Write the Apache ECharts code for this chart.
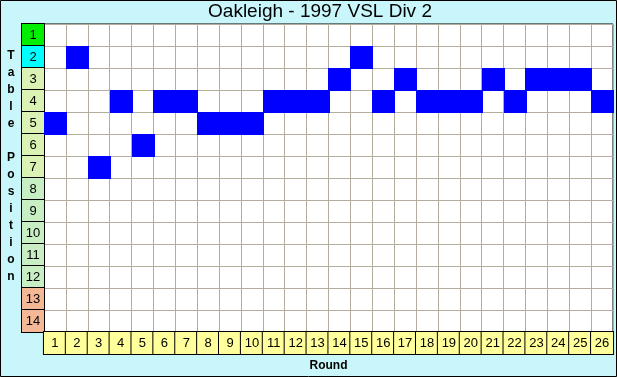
<!DOCTYPE html>
<html>
<head>
<meta charset="utf-8">
<script src="https://cdn.jsdelivr.net/npm/echarts@6/dist/echarts.min.js"></script>
<style>
html,body{margin:0;padding:0;background:#c8f6fa;}
#chart{width:617px;height:377px;}
</style>
</head>
<body>
<div id="chart"></div>
<script>
// Data
var rounds = [1,2,3,4,5,6,7,8,9,10,11,12,13,14,15,16,17,18,19,20,21,22,23,24,25,26];
var positions = [5,2,7,4,6,4,4,5,5,5,4,4,4,3,2,4,3,4,4,4,3,4,3,3,3,4];
var tableLabels = ['1','2','3','4','5','6','7','8','9','10','11','12','13','14'];
var titleText = 'Oakleigh - 1997 VSL Div 2';
var yTitle = 'Table Position';
var xTitle = 'Round';

function posColor(i){
  if (i === 1) return '#00ee00';
  if (i === 2) return '#00ffff';
  if (i <= 7) return '#daf2b4';
  if (i <= 12) return '#c8eec4';
  return '#f4b896';
}
var yRich = {};
tableLabels.forEach(function(l){
  yRich['p' + l] = {
    width: 22, height: 22, lineHeight: 22, align: 'center', verticalAlign: 'middle',
    backgroundColor: posColor(+l), borderColor: '#000', borderWidth: 1,
    color: '#000', fontSize: 13, fontFamily: 'Liberation Sans, Arial, sans-serif'
  };
});

var chart = echarts.init(document.getElementById('chart'), null, {renderer: 'canvas'});
chart.setOption({
  backgroundColor: '#c8f6fa',
  animation: false,
  graphic: [
    {type: 'text', x: 320, y: 12, z: 50,
     style: {text: titleText, align: 'center', verticalAlign: 'middle',
             font: '19px "Liberation Sans", Arial, sans-serif', fill: '#000'}},
    {type: 'text', x: 11, y: 166, z: 50,
     style: {text: yTitle.split('').join('\n'), align: 'center', verticalAlign: 'middle',
             lineHeight: 17, font: 'bold 12px "Liberation Sans", Arial, sans-serif', fill: '#000'}},
    {type: 'rect', z: 100, silent: true,
     shape: {x: 0.5, y: 0.5, width: 616, height: 376},
     style: {fill: null, stroke: '#000', lineWidth: 1}}
  ],
  grid: {left: 44, top: 24, width: 572, height: 308, show: true,
         backgroundColor: '#ffffff', borderColor: '#000', borderWidth: 1},
  xAxis: {
    type: 'category', data: rounds.map(String), position: 'bottom',
    name: xTitle, nameLocation: 'middle', nameGap: 27,
    nameTextStyle: {fontWeight: 'bold', fontSize: 12, color: '#000', fontFamily: 'Liberation Sans, Arial, sans-serif'},
    axisLine: {show: true, lineStyle: {color: '#000'}},
    axisTick: {show: false},
    splitLine: {show: true, interval: 0, lineStyle: {color: '#b4ac9c', width: 1}},
    axisLabel: {
      interval: 0, margin: 0,
      formatter: function(v){ return '{r|' + v + '}'; },
      rich: {r: {width: 22, height: 22, lineHeight: 22, align: 'center', verticalAlign: 'middle',
                 backgroundColor: '#ffff9c', borderColor: '#000', borderWidth: 1,
                 color: '#000', fontSize: 13, fontFamily: 'Liberation Sans, Arial, sans-serif'}}
    }
  },
  yAxis: {
    type: 'category', data: tableLabels, inverse: true,
    axisLine: {show: true, lineStyle: {color: '#000'}},
    axisTick: {show: false},
    splitLine: {show: true, interval: 0, lineStyle: {color: '#b4ac9c', width: 1}},
    axisLabel: {
      interval: 0, margin: 0,
      formatter: function(v){ return '{p' + v + '|' + v + '}'; },
      rich: yRich
    }
  },
  series: [{
    type: 'custom',
    z: 5,
    data: rounds.map(function(r, i){ return [i, positions[i] - 1]; }),
    renderItem: function(params, api){
      var c = api.coord([api.value(0), api.value(1)]);
      var s = api.size([1, 1]);
      return {type: 'rect',
              shape: {x: Math.round(c[0] - s[0] / 2), y: Math.round(c[1] - s[1] / 2),
                      width: Math.round(s[0]) + 1, height: Math.round(s[1]) + 1},
              style: {fill: '#0000ff', stroke: null}};
    }
  }]
});
</script>
</body>
</html>
